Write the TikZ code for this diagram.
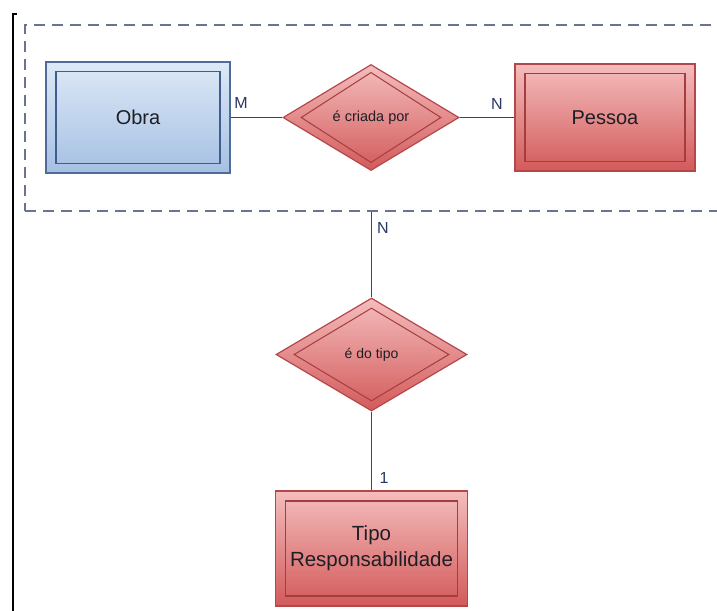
\documentclass[tikz,border=0pt]{standalone}
\usepackage{fontspec}
\setmainfont{Liberation Sans}
\usetikzlibrary{shapes.geometric}
\definecolor{redtop}{HTML}{F4BDBD}
\definecolor{redbot}{HTML}{D35A5A}
\definecolor{redline}{HTML}{B5474A}
\definecolor{redinner}{HTML}{A53C3E}
\definecolor{bluetop}{HTML}{DDE9F7}
\definecolor{bluebot}{HTML}{A5C0E3}
\definecolor{blueline}{HTML}{4D6C9C}
\definecolor{blueinner}{HTML}{3F5E8E}
\definecolor{conn}{HTML}{34447E}
\definecolor{dashc}{HTML}{6B7394}
\definecolor{txt}{HTML}{1E1E24}
\begin{document}
\begin{tikzpicture}[x=1pt,y=-1pt,
  entblue/.style={rectangle, draw=blueline, line width=1.3pt, top color=bluetop, bottom color=bluebot, inner sep=0pt},
  entred/.style={rectangle, draw=redline, line width=1.3pt, top color=redtop, bottom color=redbot, inner sep=0pt},
  inblue/.style={rectangle, draw=blueinner, line width=1.1pt, inner sep=0pt, text=txt, font=\fontsize{20}{24}\selectfont},
  inred/.style={rectangle, draw=redinner, line width=1.1pt, inner sep=0pt, text=txt, font=\fontsize{20}{24}\selectfont, align=center},
  relred/.style={diamond, draw=redline, line width=1.2pt, top color=redtop, bottom color=redbot, inner sep=0pt},
  inrel/.style={diamond, draw=redinner, line width=1pt, inner sep=0pt, text=txt},
  aggbox/.style={rectangle, draw=dashc, line width=1.4pt, dash pattern=on 11pt off 7pt, inner sep=0pt},
  conn/.style={draw=conn, line width=1.2pt},
  card/.style={text=conn!80!black, font=\fontsize{16}{18}\selectfont, inner sep=0pt}
]
\useasboundingbox (0,0) rectangle (717,610);
\clip (0,0) rectangle (717,610);

% left border marks
\draw[line width=2pt, black] (13,611) -- (13,14) -- (17,14);

% aggregation box
\node[aggbox, minimum width=700pt, minimum height=186pt] (agg) at (375,118) {};

% entities
\node[entblue, minimum width=184pt, minimum height=111pt] (obra) at (138,117.5) {};
\node[inblue, minimum width=164pt, minimum height=92pt] (obraIn) at (obra.center) {Obra};

\node[entred, minimum width=180pt, minimum height=107pt] (pessoa) at (605,117.5) {};
\node[inred, minimum width=160pt, minimum height=88pt] (pessoaIn) at (pessoa.center) {Pessoa};

\node[entred, minimum width=192pt, minimum height=115pt] (tipo) at (371.5,548.5) {};
\node[inred, minimum width=172pt, minimum height=95pt, font=\fontsize{20.5}{24}\selectfont] (tipoIn) at (tipo.center) {Tipo\\[2pt]Responsabilidade};

% relationships
\node[relred, minimum width=176pt, minimum height=106pt] (rel1) at (371,117.5) {};
\node[inrel, minimum width=140pt, minimum height=86pt, font=\fontsize{14.5}{16}\selectfont] (rel1In) at (rel1.center) {é criada por};

\node[relred, minimum width=191pt, minimum height=113pt] (rel2) at (371.5,354.5) {};
\node[inrel, minimum width=155pt, minimum height=93pt, font=\fontsize{14}{16}\selectfont] (rel2In) at (rel2.center) {é do tipo};

% connectors
\draw[conn] (obra.east) -- (rel1.west);
\draw[conn] (rel1.east) -- (pessoa.west);
\draw[conn] (agg.south -| rel2.north) -- (rel2.north);
\draw[conn] (rel2.south) -- (tipo.north);

% cardinalities
\node[card] (cM) at (241,103) {M};
\node[card] (cN1) at (497,104) {N};
\node[card] (cN2) at (383,228) {N};
\node[card] (c1) at (384,478) {1};
\end{tikzpicture}
\end{document}
